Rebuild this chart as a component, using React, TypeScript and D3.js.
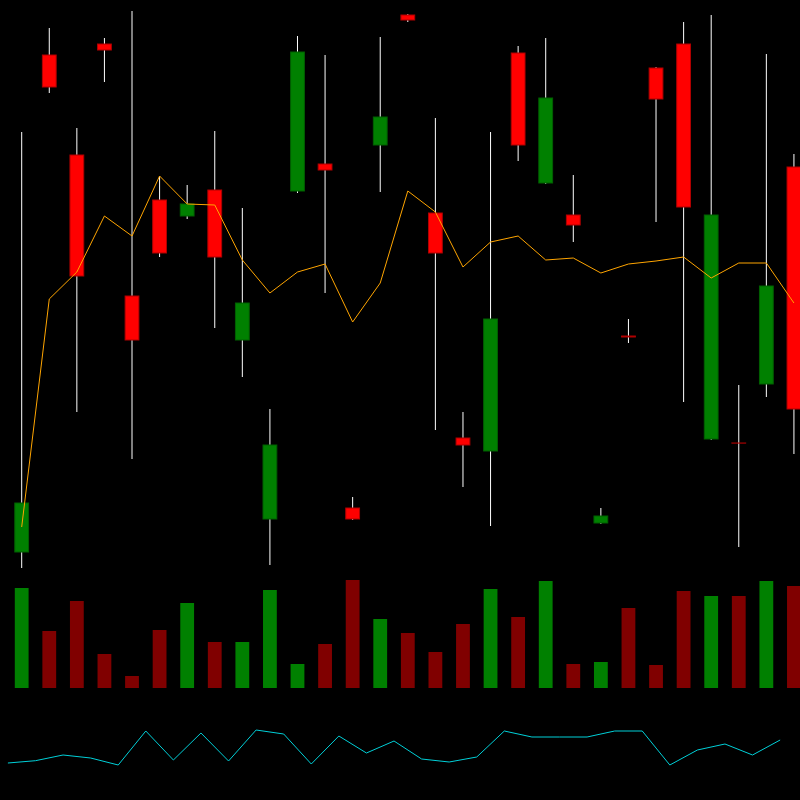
import React, { useEffect, useRef } from 'react';
import * as d3 from 'd3';

// OHLC prices, one per session
const opens = [9.6, 109, 89, 111.2, 60.8, 80, 76.8, 82, 52, 16.2, 81.8, 87.2, 18.4, 91, 117, 77.4, 32.4, 29.8, 109.4, 83.4, 77, 15.4, 52.8, 106.4, 111.2, 32.2, 31.4, 43.2, 86.6];
const highs = [93.6, 114.4, 94.4, 112.4, 117.8, 84.8, 83, 93.8, 78.4, 38.2, 112.8, 109, 20.6, 112.6, 117.2, 96.4, 37.6, 93.6, 110.8, 112.4, 85, 18.4, 56.2, 106.6, 115.6, 117, 43, 109.2, 89.2];
const lows = [6.4, 101.4, 37.6, 103.6, 28.2, 68.6, 76.2, 54.4, 44.6, 7, 81.4, 61.4, 16, 81.6, 115.6, 34, 22.6, 14.8, 87.8, 83.2, 71.6, 15.2, 51.4, 75.6, 39.6, 32, 10.6, 40.6, 29.2];
const closes = [19.4, 102.6, 64.8, 110, 52, 69.4, 79.2, 68.6, 59.4, 31, 109.6, 86, 16.2, 96.6, 116, 69.4, 31, 56.2, 91, 100.4, 75, 16.8, 52.6, 100.2, 78.6, 77, 31.4, 62.8, 38.2];

// moving average overlay
const movingAvg = [14.6, 60.2, 65.6, 76.8, 72.8, 84.8, 79.2, 79, 68, 61.4, 65.6, 67.2, 55.6, 63.4, 81.8, 77.6, 66.6, 71.6, 72.8, 68, 68.4, 65.4, 67.2, 67.8, 68.6, 64.4, 67.4, 67.4, 59.4];

// volume (thousands)
const volumes = [100, 57, 87, 34, 12, 58, 85, 46, 46, 98, 24, 44, 108, 69, 55, 36, 64, 99, 71, 107, 24, 26, 80, 23, 97, 92, 92, 107, 102];

// oscillator panel
const oscillator = [14, 18.6, 30, 24, 10, 78, 20, 74, 18, 80, 72, 12, 68, 34, 58, 22, 16, 26, 78, 66, 66, 66, 78, 78, 10, 40, 52, 30, 60];

const W = 800;
const H = 800;

const App: React.FC = () => {
  const svgRef = useRef<SVGSVGElement>(null);

  useEffect(() => {
    document.body.style.margin = '0';
    document.body.style.background = '#000';
    if (!svgRef.current) return;

    const n = opens.length;
    const svg = d3.select(svgRef.current);
    svg.selectAll('*').remove();

    svg.append('rect').attr('width', W).attr('height', H).attr('fill', '#000');

    const x = d3.scaleLinear().domain([0, n]).range([7.9, 7.9 + 27.58 * n]);
    const step = x(1) - x(0);
    const bw = step / 2;
    const cx = (i: number) => x(i + 0.5);

    const y = d3.scaleLinear().domain([0, 120]).range([600, 0]);
    const yVol = d3.scaleLinear().domain([0, 120]).range([688, 568]);
    const yOsc = d3.scaleLinear().domain([0, 100]).range([770, 720]);

    const idx = d3.range(n);
    const up = (i: number) => closes[i] > opens[i];

    // wicks
    svg.append('g')
      .selectAll('line')
      .data(idx)
      .enter().append('line')
      .attr('x1', i => cx(i))
      .attr('x2', i => cx(i))
      .attr('y1', i => y(highs[i]))
      .attr('y2', i => y(lows[i]))
      .attr('stroke', '#fff')
      .attr('stroke-width', 1);

    // bodies (doji keep a hairline so the stroke still shows)
    svg.append('g')
      .selectAll('rect')
      .data(idx)
      .enter().append('rect')
      .attr('x', i => cx(i) - bw / 2)
      .attr('width', bw)
      .attr('y', i => y(Math.max(opens[i], closes[i])))
      .attr('height', i => Math.max(Math.abs(y(opens[i]) - y(closes[i])), 0.1))
      .attr('fill', i => (up(i) ? '#008000' : '#ff0000'))
      .attr('stroke', i => (up(i) ? '#006000' : '#b00000'))
      .attr('stroke-width', 1);

    // moving average
    const maLine = d3.line<number>()
      .x((_, i) => cx(i))
      .y(d => y(d));
    svg.append('path')
      .datum(movingAvg)
      .attr('d', maLine)
      .attr('fill', 'none')
      .attr('stroke', '#ffa500')
      .attr('stroke-width', 1);

    // volume
    svg.append('g')
      .selectAll('rect')
      .data(idx)
      .enter().append('rect')
      .attr('x', i => cx(i) - bw / 2)
      .attr('width', bw)
      .attr('y', i => yVol(volumes[i]))
      .attr('height', i => yVol(0) - yVol(volumes[i]))
      .attr('fill', i => (up(i) ? '#008000' : '#800000'));

    // oscillator
    const oscLine = d3.line<number>()
      .x((_, i) => x(i))
      .y(d => yOsc(d));
    svg.append('path')
      .datum(oscillator)
      .attr('d', oscLine)
      .attr('fill', 'none')
      .attr('stroke', '#00d0d8')
      .attr('stroke-width', 1);
  }, []);

  return <svg ref={svgRef} width={W} height={H} style={{ display: 'block' }} />;
};

export default App;
